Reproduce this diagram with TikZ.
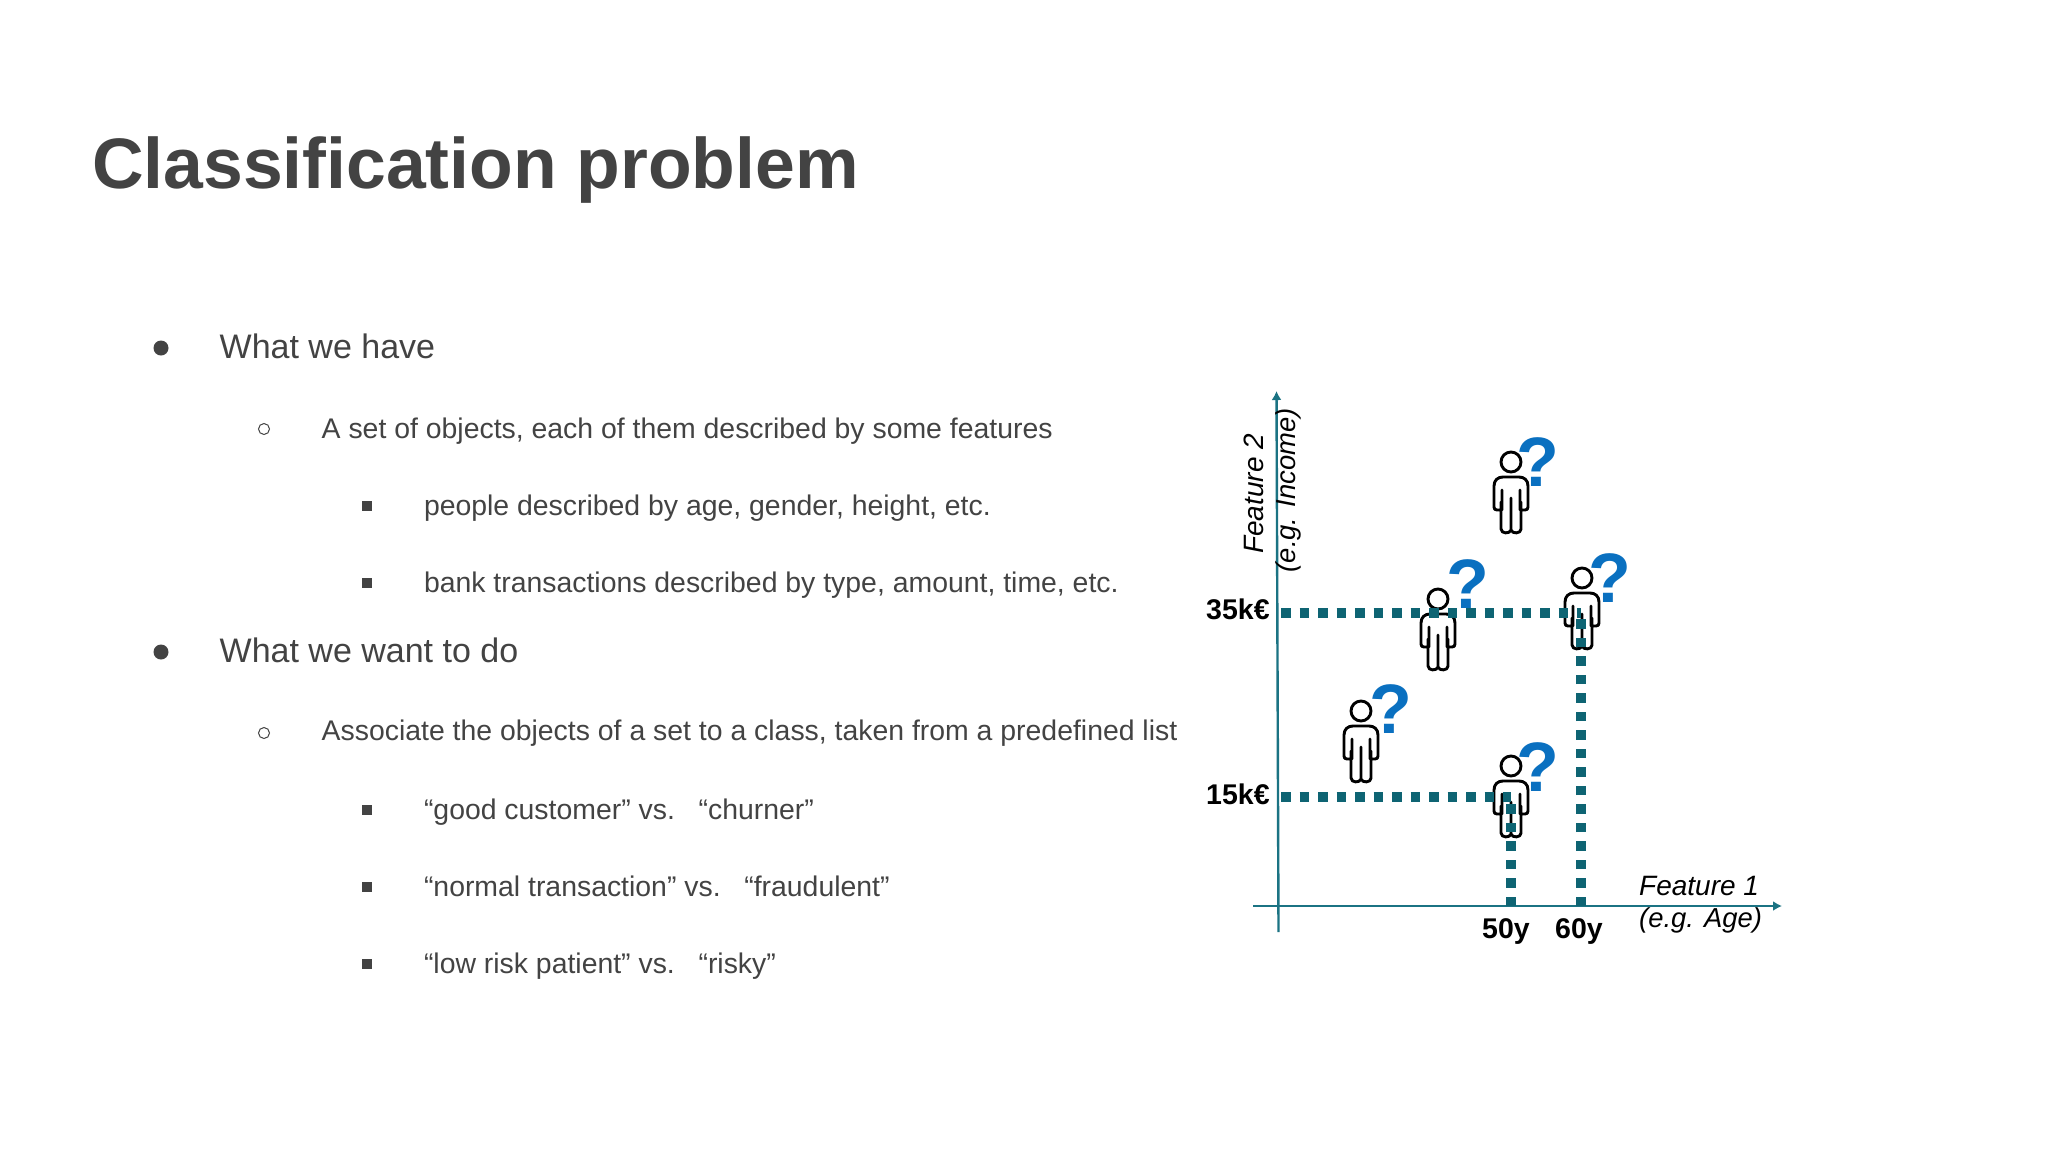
\documentclass[tikz,border=0pt]{standalone}
\usepackage{fontspec}
\usetikzlibrary{arrows.meta}
\setmainfont{Liberation Sans}
\definecolor{txt}{HTML}{434343}
\definecolor{teal1}{HTML}{0E6473}
\definecolor{axisc}{HTML}{1B7383}
\definecolor{qblue}{HTML}{0A70C0}
\newcommand{\fsz}[1]{\fontsize{#1}{#1}\selectfont}
\tikzset{
  x=1pt,y=-1pt,
  lbl/.style={anchor=base west,inner sep=0pt,outer sep=0pt,text=txt},
  lone/.style={lbl,font=\fsz{34}},
  ltwo/.style={lbl,font=\fsz{28.4}},
  tick/.style={anchor=base west,inner sep=0pt,font=\bfseries\fsz{28.5},text=black},
  axl/.style={anchor=base west,inner sep=0pt,font=\itshape\fsz{28},text=black},
  axs/.style={anchor=base west,inner sep=0pt,font=\itshape\fsz{27.4},text=black},
  qm/.style={inner sep=0pt,font=\bfseries\fsz{70},text=qblue},
  axisline/.style={draw=axisc,line width=2.4pt},
  dots/.style={draw=teal1,line width=9.5pt,dash pattern=on 9.5pt off 9pt},
  blt1/.style={fill=txt,draw=none},
  person/.pic={
    \draw[black,line width=2.9pt,line join=round,line cap=round]
      (0,0) circle[radius=10]
      (-9,48) -- (-9,28) (9,28) -- (9,48)
      (0,36) -- (0,68)
      (-10,40) -- (-10,67) .. controls (-10,72) and (-1,72) .. (0,68)
         .. controls (1,72) and (10,72) .. (10,67) -- (10,40)
      (-9,48) -- (-14,48) .. controls (-16,48) and (-17,47) .. (-17,45) -- (-17,24)
         .. controls (-17,18) and (-13,15) .. (-8,15) -- (8,15)
         .. controls (13,15) and (17,18) .. (17,24) -- (17,45)
         .. controls (17,47) and (16,48) .. (14,48) -- (9,48);
  }
}
\begin{document}
\begin{tikzpicture}
\useasboundingbox[fill=white] (0,0) rectangle (2048,1152);
% title
\node[lbl,font=\bfseries\fsz{71.5}] (title) at (92,188) {Classification problem};
% first level
\fill[blt1] (161,348) circle[radius=7.5];
\node[lone] (t1) at (219.7,358) {What we have};
\draw[txt,line width=1pt] (264,429) circle[radius=5.5];
\node[ltwo] (t2) at (321.7,438) {A set of objects, each of them described by some features};
\fill[blt1] (362,501) rectangle (372,511);
\node[ltwo] (t3) at (424,515) {people described by age, gender, height, etc.};
\fill[blt1] (362,578) rectangle (372,588);
\node[ltwo] (t4) at (424,592) {bank transactions described by type, amount, time, etc.};
\fill[blt1] (161,652) circle[radius=7.5];
\node[lone] (t5) at (219.7,662) {What we want to do};
\draw[txt,line width=1pt] (264,733) circle[radius=5.5];
\node[ltwo] (t6) at (321.7,740) {Associate the objects of a set to a class, taken from a predefined list};
\fill[blt1] (362,805) rectangle (372,815);
\node[ltwo] (t7) at (424,819) {“good customer” vs.~~~“churner”};
\fill[blt1] (362,882) rectangle (372,892);
\node[ltwo] (t8) at (424,896) {“normal transaction” vs.~~~“fraudulent”};
\fill[blt1] (362,959) rectangle (372,969);
\node[ltwo] (t9) at (424,973) {“low risk patient” vs.~~~“risky”};
% coordinates
\coordinate (ybot) at (1278.5,932);
\coordinate (ytop) at (1276.5,391);
\coordinate (xleft) at (1253,906);
\coordinate (xright) at (1782,906);
\coordinate (y35) at (1281,613);
\coordinate (c35) at (1581,613);
\coordinate (x60) at (1581,906);
\coordinate (y15) at (1281,797);
\coordinate (c15) at (1511,797);
\coordinate (x50) at (1511,906);
% people
\pic at (1511,462) {person};
\pic at (1438,599) {person};
\pic at (1582,578) {person};
\pic at (1361,711) {person};
\pic at (1511,766) {person};
% question marks
\node[qm] (q1) at (1538,462) {?};
\node[qm] (q2) at (1467.5,584) {?};
\node[qm] (q3) at (1610,578) {?};
\node[qm] (q4) at (1390.5,709) {?};
\node[qm] (q5) at (1538,767) {?};
% axes
\draw[axisline,-{Latex[length=9pt,width=10pt]}] (ybot) -- (ytop);
\draw[axisline,-{Latex[length=9pt,width=10pt]}] (xleft) -- (xright);
% guides
\draw[dots] (y35) -- (c35);
\draw[dots] (x60) -- (c35);
\draw[dots] (y15) -- (c15);
\draw[dots] (x50) -- (c15);
% labels
\node[tick] (k35) at (1206,619) {35k€};
\node[tick] (k15) at (1206,804) {15k€};
\node[tick] (y50) at (1482,938) {50y};
\node[tick] (y60) at (1555,938) {60y};
\node[axl] (f1) at (1639,895) {Feature 1};
\node[axs] (f1b) at (1639,927) {(e.g. Age)};
\node[axl,rotate=90] (f2) at (1263,554) {Feature 2};
\node[axs,rotate=90] (f2b) at (1295,572.5) {(e.g. Income)};
\end{tikzpicture}
\end{document}
